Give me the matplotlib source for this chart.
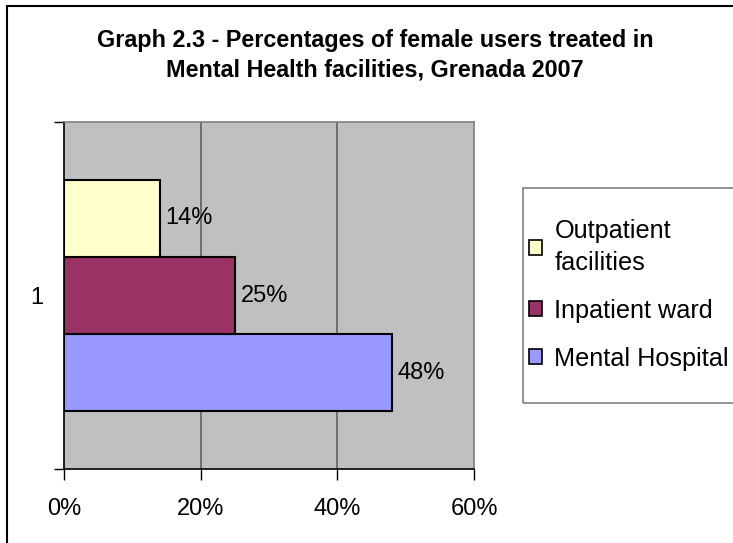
import matplotlib.pyplot as plt
from matplotlib.patches import Rectangle, Patch

# Data
categories = ["Mental Hospital", "Inpatient ward", "Outpatient facilities"]
legend_labels = ["Mental Hospital", "Inpatient ward", "Outpatient\nfacilities"]
values = [48, 25, 14]
colors = ["#9999FF", "#993366", "#FFFFCC"]
offsets = [-0.222, 0.0, 0.222]
x_ticks = [0, 20, 40, 60]
x_tick_labels = ["0%", "20%", "40%", "60%"]

plt.rcParams['font.family'] = ['Liberation Sans', 'DejaVu Sans']

W, H = 733, 543
fig = plt.figure(figsize=(W / 100, H / 100), dpi=100)
ax = fig.add_axes([64 / W, (H - 469) / H, 410 / W, 347 / H])
ax.set_facecolor("#C0C0C0")

bar_h = 0.222
for v, c, off, lab in zip(values, colors, offsets, categories):
    bars = ax.barh(1 + off, v, height=bar_h, color=c, edgecolor="black",
                   linewidth=1.5, label=lab, zorder=3)
    ax.bar_label(bars, labels=[f"{v}%"], padding=4, fontsize=17)

ax.set_xlim(0, 60)
ax.set_ylim(0.5, 1.5)
ax.set_xticks(x_ticks)
ax.set_xticklabels(x_tick_labels, fontsize=17)
ax.set_yticks([1])
ax.set_yticklabels(["1"], fontsize=17)
ax.set_yticks([0.5, 1.5], minor=True)
ax.tick_params(axis="y", which="major", length=0, pad=15)
ax.tick_params(axis="y", which="minor", length=7, width=1, color="black")
ax.tick_params(axis="x", length=8, width=1, pad=13)

for gx in [20, 40]:
    ax.axvline(gx, color="#606060", linewidth=1.2, zorder=1)

ax.spines["left"].set_color("black")
ax.spines["bottom"].set_color("black")
ax.spines["top"].set_color("#808080")
ax.spines["right"].set_color("#808080")
for s in ax.spines.values():
    s.set_linewidth(1.2)

fig.text(375 / W, 1 - 40 / H, "Graph 2.3 - Percentages of female users treated in",
         ha="center", va="center", fontsize=16.8, fontweight="bold")
fig.text(375 / W, 1 - 70 / H, "Mental Health facilities, Grenada 2007",
         ha="center", va="center", fontsize=16.8, fontweight="bold")

handles = [Patch(facecolor=colors[2], edgecolor="black", linewidth=1.2),
           Patch(facecolor=colors[1], edgecolor="black", linewidth=1.2),
           Patch(facecolor=colors[0], edgecolor="black", linewidth=1.2)]
leg = fig.legend(handles, [legend_labels[2], legend_labels[1], legend_labels[0]],
                 loc="upper left", bbox_to_anchor=(529 / W, 1 - 219 / H),
                 fontsize=18.2, frameon=False,
                 handlelength=0.5, handleheight=0.5, handletextpad=0.5,
                 labelspacing=0.95, borderpad=0, borderaxespad=0)
for t in leg.get_texts():
    t.set_linespacing(1.4)

# legend box
fig.patches.append(Rectangle((523 / W, 1 - 403 / H), 230 / W, 215 / H,
                             transform=fig.transFigure, fill=False,
                             edgecolor="#808080", linewidth=1.2))
# outer chart border
fig.patches.append(Rectangle((7 / W, -0.1), 1.0, 1.1 - 6 / H, transform=fig.transFigure,
                             fill=False, edgecolor="black", linewidth=1.5))

fig.savefig("out.png", dpi=100)
